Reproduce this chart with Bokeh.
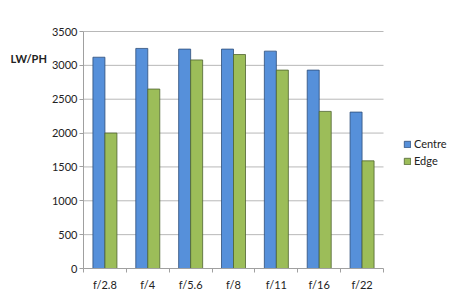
from bokeh.plotting import figure
from bokeh.models import (ColumnDataSource, Range1d, FixedTicker, Legend, LegendItem,
                          Label, LinearAxis)
from bokeh.embed import file_html
from bokeh.resources import INLINE

apertures = ["f/2.8", "f/4", "f/5.6", "f/8", "f/11", "f/16", "f/22"]
centre = [3120, 3250, 3240, 3240, 3210, 2930, 2310]
edge = [2000, 2650, 3080, 3160, 2930, 2320, 1590]
y_ticks = [0, 500, 1000, 1500, 2000, 2500, 3000, 3500]

W, H = 450, 302
LEFT, RIGHT, TOP, BOTTOM = 83, 383, 31, 268
n = len(apertures)
ymax = y_ticks[-1]
pxx = (RIGHT - LEFT) / n
pxy = (BOTTOM - TOP) / ymax

idx = list(range(n))
src_c = ColumnDataSource(dict(x=[i + 0.5 - 0.14 for i in idx], top=centre))
src_e = ColumnDataSource(dict(x=[i + 0.5 + 0.14 for i in idx], top=edge))
src_g = ColumnDataSource(dict(x0=[0] * (len(y_ticks) - 1), x1=[n] * (len(y_ticks) - 1),
                              y=y_ticks[1:]))

FONT = "Lato"
TXT = "#222222"
AX = "#A0A0A0"

p = figure(width=W, height=H, output_backend="svg", toolbar_location=None,
           x_range=Range1d(-LEFT / pxx, n + (W - RIGHT) / pxx),
           y_range=Range1d(-(H - BOTTOM) / pxy, ymax + TOP / pxy),
           x_axis_location=None, y_axis_location=None,
           min_border=0, min_border_left=0, min_border_right=0,
           min_border_top=0, min_border_bottom=0)
p.outline_line_color = None
p.background_fill_color = "white"
p.border_fill_color = "white"
p.xgrid.visible = False
p.ygrid.visible = False

# horizontal gridlines limited to the plotting area
p.segment(x0="x0", x1="x1", y0="y", y1="y", source=src_g, line_color="#B8B8B8",
          line_width=1, level="underlay")

rc = p.vbar(x="x", top="top", width=0.28, source=src_c, fill_color="#5690DA",
            line_color="#2E4E78", line_width=0.8)
re = p.vbar(x="x", top="top", width=0.28, source=src_e, fill_color="#9CBD59",
            line_color="#4E6330", line_width=0.8)

xaxis = LinearAxis(fixed_location=0, bounds=(0, n),
                   ticker=FixedTicker(ticks=[i + 0.5 for i in idx], minor_ticks=list(range(n + 1))),
                   major_label_overrides={i + 0.5: a for i, a in zip(idx, apertures)})
xaxis.major_tick_line_color = None
xaxis.major_tick_out = 4
xaxis.major_tick_in = 0
xaxis.minor_tick_line_color = AX
xaxis.minor_tick_out = 4
xaxis.minor_tick_in = 0
xaxis.axis_line_color = AX
xaxis.major_label_text_font = FONT
xaxis.major_label_text_font_size = "11px"
xaxis.major_label_text_color = TXT
xaxis.major_label_standoff = 5
p.add_layout(xaxis, "below")

yaxis = LinearAxis(fixed_location=0, bounds=(0, ymax), ticker=FixedTicker(ticks=y_ticks))
yaxis.minor_tick_line_color = None
yaxis.major_tick_line_color = AX
yaxis.major_tick_out = 4
yaxis.major_tick_in = 0
yaxis.axis_line_color = AX
yaxis.major_label_text_font = FONT
yaxis.major_label_text_font_size = "11px"
yaxis.major_label_text_color = TXT
yaxis.major_label_standoff = 2
p.add_layout(yaxis, "left")

p.add_layout(Label(x=10, y=H - 58, x_units="screen", y_units="screen", text="LW/PH",
                   text_font=FONT, text_font_style="bold", text_font_size="11px",
                   text_color=TXT, text_baseline="middle"))

legend = Legend(items=[LegendItem(label="Centre", renderers=[rc]),
                       LegendItem(label="Edge", renderers=[re])],
                location=(403, H - 167), glyph_width=8, glyph_height=8, label_text_font=FONT,
                label_text_font_size="11px", label_text_color=TXT, spacing=4,
                padding=2, margin=0, label_standoff=3, border_line_color=None,
                background_fill_alpha=0, label_height=12)
p.add_layout(legend)

open("out.html", "w").write(file_html(p, INLINE))
